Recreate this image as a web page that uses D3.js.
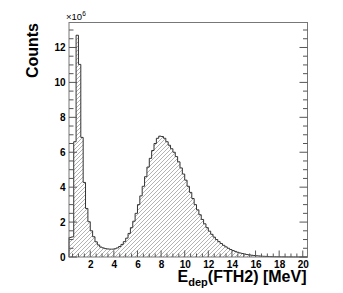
<!DOCTYPE html>
<html><head><meta charset="utf-8">
<script src="https://cdn.jsdelivr.net/npm/d3@7"></script>
<style>body{margin:0;background:#fff}svg{display:block}text{font-family:"Liberation Sans",Arial,sans-serif}</style>
</head><body>
<svg id="c" width="343" height="293"></svg>
<script>
// Histogram: bin width 0.2 MeV, first bin starts at 0.2 MeV. Values in units of 10^6 counts.
const binStart = 0.2;
const binWidth = 0.2;
const counts = [
 1.12, 1.15, 6.6, 12.7, 11.03, 6.85, 4.27, 2.78, 2.02, 1.5,
 1.16, 0.87, 0.69, 0.57, 0.52, 0.48, 0.46, 0.45, 0.45, 0.47,
 0.52, 0.6, 0.72, 0.88, 1.08, 1.35, 1.68, 2.05, 2.5, 3.0,
 3.5, 4.05, 4.6, 5.15, 5.65, 6.1, 6.5, 6.8, 6.92, 6.9,
 6.8, 6.6, 6.4, 6.2, 6.0, 5.75, 5.45, 5.1, 4.75, 4.4,
 4.05, 3.7, 3.35, 3.0, 2.7, 2.42, 2.15, 1.9, 1.68, 1.48,
 1.3, 1.14, 1.0, 0.88, 0.77, 0.67, 0.58, 0.5, 0.43, 0.37,
 0.32, 0.27, 0.23, 0.2, 0.17, 0.14, 0.12, 0.1, 0.085, 0.07,
 0.06, 0.05, 0.04, 0.034, 0.028, 0.023, 0.019, 0.016, 0.013, 0.011,
 0.009, 0.007, 0.006, 0.005, 0.004, 0.003, 0.003, 0.002, 0.002, 0.001, 0.001
];
const xDomain = [0.2, 20.4];
const yDomain = [0, 13.43];
const xTickLabels = [2, 4, 6, 8, 10, 12, 14, 16, 18, 20];
const yTickLabels = [0, 2, 4, 6, 8, 10, 12];

const svg = d3.select("#c");
const L = 69, R = 307.5, T = 22.5, B = 257;
const x = d3.scaleLinear().domain(xDomain).range([L, R]);
const y = d3.scaleLinear().domain(yDomain).range([B, T]);

const defs = svg.append("defs");
const pat = defs.append("pattern").attr("id","hatch").attr("patternUnits","userSpaceOnUse")
  .attr("width",4).attr("height",4);
pat.append("path").attr("d","M-1,1 l2,-2 M0,4 l4,-4 M3,5 l2,-2")
  .attr("stroke","#8a8a8a").attr("stroke-width",0.65);

// build step path
const pts = [];
pts.push([x(binStart), y(0)]);
counts.forEach((v,i)=>{
  const x0 = binStart + i*binWidth, x1 = x0 + binWidth;
  pts.push([x(x0), y(v)]);
  pts.push([x(Math.min(x1, xDomain[1])), y(v)]);
});
pts.push([x(Math.min(binStart + counts.length*binWidth, xDomain[1])), y(0)]);
const line = d3.line();
svg.append("path").attr("d", line(pts) + "Z").attr("fill","url(#hatch)").attr("stroke","none");
svg.append("path").attr("d", line(pts)).attr("fill","none").attr("stroke","#333").attr("stroke-width",1);

// frame
svg.append("rect").attr("x",L).attr("y",T).attr("width",R-L).attr("height",B-T)
  .attr("fill","none").attr("stroke","#777").attr("stroke-width",1);

// x axis
const xAxis = d3.axisBottom(x).tickValues(xTickLabels).tickSize(0).tickPadding(0).tickFormat(d3.format("d"));
const gx = svg.append("g").attr("transform",`translate(0,${B})`).call(xAxis);
gx.select(".domain").remove();
gx.selectAll("text").attr("font-size",10).attr("font-weight","bold").attr("fill","#000")
  .attr("y",10.5).attr("dy",0);
const xMinor = d3.range(0.5, 20.01, 0.5);
svg.append("g").selectAll("line").data(xMinor).join("line")
  .attr("x1",d=>x(d)).attr("x2",d=>x(d))
  .attr("y1",B).attr("y2",d=>B-(d%2===0?6.5:3.5))
  .attr("stroke","#555").attr("stroke-width",1);

// y axis
const yAxis = d3.axisLeft(y).tickValues(yTickLabels).tickSize(0).tickPadding(3.5).tickFormat(d3.format("d"));
const gy = svg.append("g").attr("transform",`translate(${L},0)`).call(yAxis);
gy.select(".domain").remove();
gy.selectAll("text").attr("font-size",10).attr("font-weight","bold").attr("fill","#000");
const yMinor = d3.range(0, 13.01, 0.5);
["L","R"].forEach(side=>{
  svg.append("g").selectAll("line").data(yMinor).join("line")
    .attr("y1",d=>y(d)).attr("y2",d=>y(d))
    .attr("x1", side==="L"?L:R)
    .attr("x2",d=>{const len=(d%2===0?8:4.5); return side==="L"?L+len:R-len;})
    .attr("stroke","#555").attr("stroke-width",1);
});

// exponent label
const ex = svg.append("text").attr("x",66).attr("y",20).attr("font-size",9.5).attr("fill","#000");
ex.append("tspan").text("×10");
ex.append("tspan").attr("dy",-4).attr("font-size",6.5).text("6");

// y title
svg.append("text").attr("transform",`translate(38,23) rotate(-90)`).attr("text-anchor","end")
  .attr("font-size",16).attr("font-weight","bold").attr("fill","#000").text("Counts");

// x title
const xt = svg.append("text").attr("x",306.5).attr("y",282).attr("text-anchor","end")
  .attr("font-size",16).attr("font-weight","bold").attr("fill","#000");
xt.append("tspan").text("E");
xt.append("tspan").attr("dy",4).attr("font-size",11).text("dep");
xt.append("tspan").attr("dy",-4).text("(FTH2) [MeV]");
</script>
</body></html>
